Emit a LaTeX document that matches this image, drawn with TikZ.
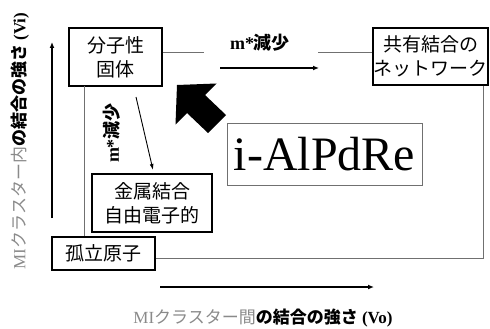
\documentclass[tikz,border=0pt]{standalone}
\usepackage{fontspec}
\setmainfont{Liberation Serif}
\newfontfamily\jp{Noto Sans CJK JP}
\usetikzlibrary{arrows.meta,calc}
\definecolor{lab}{HTML}{8A8A8A}
\definecolor{conncol}{HTML}{707070}
\tikzset{
  box/.style={draw=black, line width=1.4pt, fill=white, inner sep=0pt, align=center,
    font=\jp\fontsize{19}{24}\selectfont},
  conn/.style={draw=conncol, line width=0.9pt},
  axisarrow/.style={draw=black, line width=1.3pt, -{Latex[length=6pt,width=5pt]}},
  thinarrow/.style={draw=black, line width=0.9pt, -{Latex[length=6pt,width=4pt]}},
  axlabel/.style={inner sep=0pt, font=\fontsize{17}{19}\selectfont},
}
\begin{document}
\begin{tikzpicture}[x=1pt,y=-1pt]
\useasboundingbox (0,0) rectangle (490,329);
% boxes
\node[box, minimum width=93pt, minimum height=58pt] (mol) at (115.5,57) {分子性\\固体};
\node[box, minimum width=115pt, minimum height=57pt] (cov) at (430.5,56.5) {共有結合の\\ネットワーク};
\node[box, minimum width=120pt, minimum height=58pt] (metal) at (152,203) {金属結合\\自由電子的};
\node[box, minimum width=103pt, minimum height=33pt] (iso) at (103.5,253.5) {孤立原子};
\node[draw=conncol, line width=0.8pt, minimum width=195pt, minimum height=62pt, inner sep=0pt,
  font=\fontsize{48}{50}\selectfont] (alloy) at (324.5,154) {i-AlPdRe};
% top connectors
\coordinate (t1) at (204,52);
\coordinate (t2) at (318,52);
\draw[conn] (mol.east |- t1) -- (t1);
\draw[conn] (t2) -- (cov.west |- t2);
\node[inner sep=0pt, font=\fontsize{18}{20}\selectfont] (lbl1) at (260,43) {\bfseries m*{\jp 減少}};
\coordinate (a1) at (220,68);
\coordinate (a2) at (319,68);
\draw[axisarrow, line width=1.6pt] (a1) -- (a2);
% right / bottom connector
\coordinate (r1) at (483,258);
\draw[conn] (cov.south east -| r1) -- (r1) -- (iso.east |- r1);
% left connector
\coordinate (l1) at (84,86);
\draw[conn] (l1) -- (l1 |- iso.north);
% diagonal arrow
\coordinate (d1) at (136,97);
\coordinate (d2) at (153,170);
\draw[thinarrow] (d1) -- (d2);
\node[inner sep=0pt, rotate=90, font=\fontsize{18}{20}\selectfont] (lbl2) at (112,133) {\bfseries m*{\jp 減少}};
% big arrow
\fill[black] (177,85) -- (216.5,83.5) -- (205,95) -- (226,115) -- (208,133) -- (187,113) -- (175.5,124.5) -- cycle;
% axes
\coordinate (y0) at (52,218);
\coordinate (y1) at (52,42);
\draw[axisarrow] (y0) -- (y1);
\coordinate (x0) at (160,287);
\coordinate (x1) at (374,287);
\draw[axisarrow] (x0) -- (x1);
\node[axlabel, rotate=90] (ylab) at (20,141) {{\color{lab}MI{\jp クラスター内}}{\bfseries\jp の結合の強さ} {\bfseries (Vi)}};
\node[axlabel] (xlab) at (263,318) {{\color{lab}MI{\jp クラスター間}}{\bfseries\jp の結合の強さ} {\bfseries (Vo)}};
\end{tikzpicture}
\end{document}
